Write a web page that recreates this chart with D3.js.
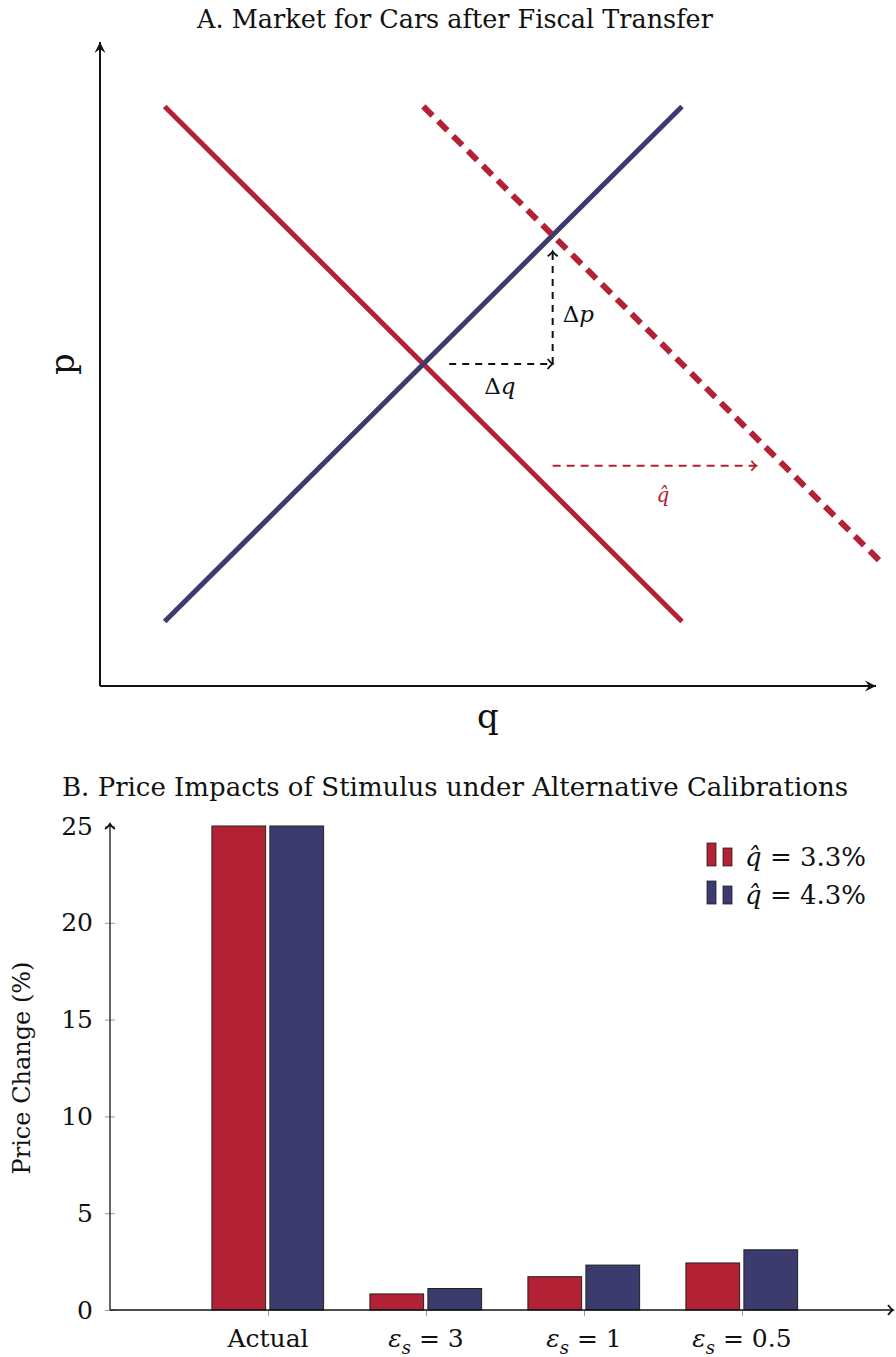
<!DOCTYPE html>
<html>
<head>
<meta charset="utf-8">
<script src="https://cdn.jsdelivr.net/npm/d3@7"></script>
<style>
  body { margin: 0; background: #fff; }
  text { font-family: "DejaVu Serif", serif; fill: #111; }
</style>
</head>
<body>
<svg id="chart" width="896" height="1357"></svg>
<script>
const red = "#b22234";
const navy = "#3c3b6e";

// Panel A: curves in (q, p) units
const demand = [[1, 9], [9, 1]];
const supply = [[1, 1], [9, 9]];
const demandShift = [[5, 9], [12.05, 1.95]];
const dqArrow = [[5.4, 5], [7, 5]];
const dpArrow = [[7, 5], [7, 6.75]];
const qhatArrow = [[7, 3.42], [10.15, 3.42]];

// Panel B: price change (%) by calibration
const categories = ["Actual", "3", "1", "0.5"];   // numbers are the supply elasticity
const seriesLabels = ["3.3%", "4.3%"];
const lowShock = [25, 0.83, 1.72, 2.43];
const highShock = [25, 1.11, 2.32, 3.11];
const yTicks = [0, 5, 10, 15, 20, 25];

const svg = d3.select("#chart");
const defs = svg.append("defs");

defs.append("marker")
    .attr("id", "stealth")
    .attr("viewBox", "-12 -6 14 12")
    .attr("markerUnits", "userSpaceOnUse")
    .attr("markerWidth", 14).attr("markerHeight", 12)
    .attr("orient", "auto")
  .append("path")
    .attr("d", "M-11,-5.5 L0,0 L-11,5.5 L-7,0 Z")
    .attr("fill", "#111");

function chevron(id, color) {
    defs.append("marker")
        .attr("id", id)
        .attr("viewBox", "-8 -7 10 14")
        .attr("markerUnits", "userSpaceOnUse")
        .attr("markerWidth", 10).attr("markerHeight", 14)
        .attr("orient", "auto")
      .append("path")
        .attr("d", "M-5,-5 Q-2,-1 0,0 Q-2,1 -5,5")
        .attr("fill", "none")
        .attr("stroke", color)
        .attr("stroke-width", 1.8);
}
chevron("chevBlack", "#111");
chevron("chevRed", red);

// ===== Panel A =====
const x = d3.scaleLinear().domain([0, 12]).range([100, 876]);
const y = d3.scaleLinear().domain([0, 10]).range([686, 42]);
const line = d3.line().x(d => x(d[0])).y(d => y(d[1]));

const gA = svg.append("g");

gA.append("text")
    .attr("x", 455).attr("y", 28)
    .attr("text-anchor", "middle")
    .attr("font-size", 25.5)
    .text("A. Market for Cars after Fiscal Transfer");

// axes
gA.append("path")
    .attr("d", line([[0, 0], [0, 10]]))
    .attr("stroke", "#111").attr("stroke-width", 2)
    .attr("marker-end", "url(#stealth)");
gA.append("path")
    .attr("d", line([[0, 0], [12, 0]]))
    .attr("stroke", "#111").attr("stroke-width", 2)
    .attr("marker-end", "url(#stealth)");

gA.append("text")
    .attr("transform", `translate(74, ${y(5)}) rotate(-90)`)
    .attr("text-anchor", "middle")
    .attr("font-size", 34)
    .text("p");
gA.append("text")
    .attr("x", 488).attr("y", 728)
    .attr("text-anchor", "middle")
    .attr("font-size", 34)
    .text("q");

gA.append("path")
    .attr("d", line(demand))
    .attr("stroke", red).attr("stroke-width", 5).attr("fill", "none");
gA.append("path")
    .attr("d", line(supply))
    .attr("stroke", navy).attr("stroke-width", 5).attr("fill", "none");
gA.append("path")
    .attr("d", line(demandShift))
    .attr("stroke", red).attr("stroke-width", 6).attr("fill", "none")
    .attr("stroke-dasharray", "13,8");

gA.append("path")
    .attr("d", line(dqArrow))
    .attr("stroke", "#111").attr("stroke-width", 2).attr("fill", "none")
    .attr("stroke-dasharray", "7,6")
    .attr("marker-end", "url(#chevBlack)");
gA.append("path")
    .attr("d", line(dpArrow))
    .attr("stroke", "#111").attr("stroke-width", 2).attr("fill", "none")
    .attr("stroke-dasharray", "7,6")
    .attr("marker-end", "url(#chevBlack)");
gA.append("path")
    .attr("d", line(qhatArrow))
    .attr("stroke", red).attr("stroke-width", 2).attr("fill", "none")
    .attr("stroke-dasharray", "8,6")
    .attr("marker-end", "url(#chevRed)");

function deltaLabel(tx, ty, v) {
    const t = gA.append("text").attr("x", tx).attr("y", ty).attr("font-size", 23);
    t.append("tspan").text("Δ");
    t.append("tspan").attr("font-style", "italic").text(v);
}
deltaLabel(x(7) + 10, y(5.65), "p");
deltaLabel(x(5.6) + 22, y(4.53), "q");

gA.append("text")
    .attr("x", 663).attr("y", 502)
    .attr("text-anchor", "middle")
    .attr("font-size", 20)
    .attr("font-style", "italic")
    .style("fill", red)
    .text("q\u0302");

// ===== Panel B =====
const xB = d3.scaleLinear().domain([0, 5]).range([110, 900]);
const yB = d3.scaleLinear().domain([0, 25]).range([1310, 826]);

const gB = svg.append("g");

gB.append("text")
    .attr("x", 455).attr("y", 796)
    .attr("text-anchor", "middle")
    .attr("font-size", 26)
    .text("B. Price Impacts of Stimulus under Alternative Calibrations");

const bw = xB(0.34) - xB(0);
const series = [
    { vals: lowShock, color: red, off: -xB(0.355) + xB(0) },
    { vals: highShock, color: navy, off: xB(0.012) - xB(0) }
];
series.forEach(s => {
    gB.selectAll(null)
        .data(s.vals)
        .enter()
        .append("rect")
            .attr("x", (d, i) => xB(i + 1) + s.off)
            .attr("y", d => yB(d))
            .attr("width", bw)
            .attr("height", d => yB(0) - yB(d))
            .attr("fill", s.color)
            .attr("stroke", "#222")
            .attr("stroke-width", 1);
});

// y axis
const yAxis = gB.append("g")
    .attr("transform", `translate(${xB(0)},0)`)
    .call(d3.axisLeft(yB).tickValues(yTicks).tickFormat(d3.format("d")).tickSize(0).tickPadding(17));
yAxis.select(".domain").remove();
yAxis.selectAll(".tick text").attr("font-size", 25).attr("font-family", "DejaVu Serif").attr("fill", "#111");
yAxis.selectAll(".tick line").attr("x1", -5).attr("x2", 5).attr("stroke", "#999");

gB.append("line")
    .attr("x1", xB(0)).attr("x2", xB(0))
    .attr("y1", yB(0)).attr("y2", yB(25) - 2)
    .attr("stroke", "#111").attr("stroke-width", 1.3)
    .attr("marker-end", "url(#chevBlack)");

// x axis
const xAxis = gB.append("g")
    .attr("transform", `translate(0,${yB(0)})`)
    .call(d3.axisBottom(xB).tickValues(categories.map((c, i) => i + 1)).tickFormat("").tickSize(6));
xAxis.select(".domain").remove();
xAxis.selectAll(".tick line").attr("stroke", "#999");

gB.append("line")
    .attr("x1", xB(0)).attr("x2", 893)
    .attr("y1", yB(0)).attr("y2", yB(0))
    .attr("stroke", "#111").attr("stroke-width", 1.3)
    .attr("marker-end", "url(#chevBlack)");

categories.forEach((c, i) => {
    const t = gB.append("text")
        .attr("x", xB(i + 1)).attr("y", yB(0) + 37)
        .attr("text-anchor", "middle")
        .attr("font-size", 25);
    if (i === 0) {
        t.text(c);
    } else {
        t.append("tspan").attr("font-style", "italic").text("ε");
        t.append("tspan").attr("font-style", "italic").attr("font-size", 18).attr("dy", 7).text("s");
        t.append("tspan").attr("dy", -7).text(" = " + c);
    }
});

gB.append("text")
    .attr("transform", `translate(30, ${yB(12.5)}) rotate(-90)`)
    .attr("text-anchor", "middle")
    .attr("font-size", 24)
    .text("Price Change (%)");

// legend
const legend = gB.append("g");
seriesLabels.forEach((lab, i) => {
    const ly = 866 + i * 38;
    const col = i === 0 ? red : navy;
    legend.append("rect").attr("x", 707).attr("y", ly - 23).attr("width", 9).attr("height", 23)
        .attr("fill", col).attr("stroke", "#222").attr("stroke-width", 0.8);
    legend.append("rect").attr("x", 723).attr("y", ly - 18).attr("width", 9).attr("height", 18)
        .attr("fill", col).attr("stroke", "#222").attr("stroke-width", 0.8);
    const t = legend.append("text").attr("x", 745).attr("y", ly).attr("font-size", 26);
    t.append("tspan").attr("font-style", "italic").text("q\u0302");
    t.append("tspan").text(" = " + lab);
});
</script>
</body>
</html>
